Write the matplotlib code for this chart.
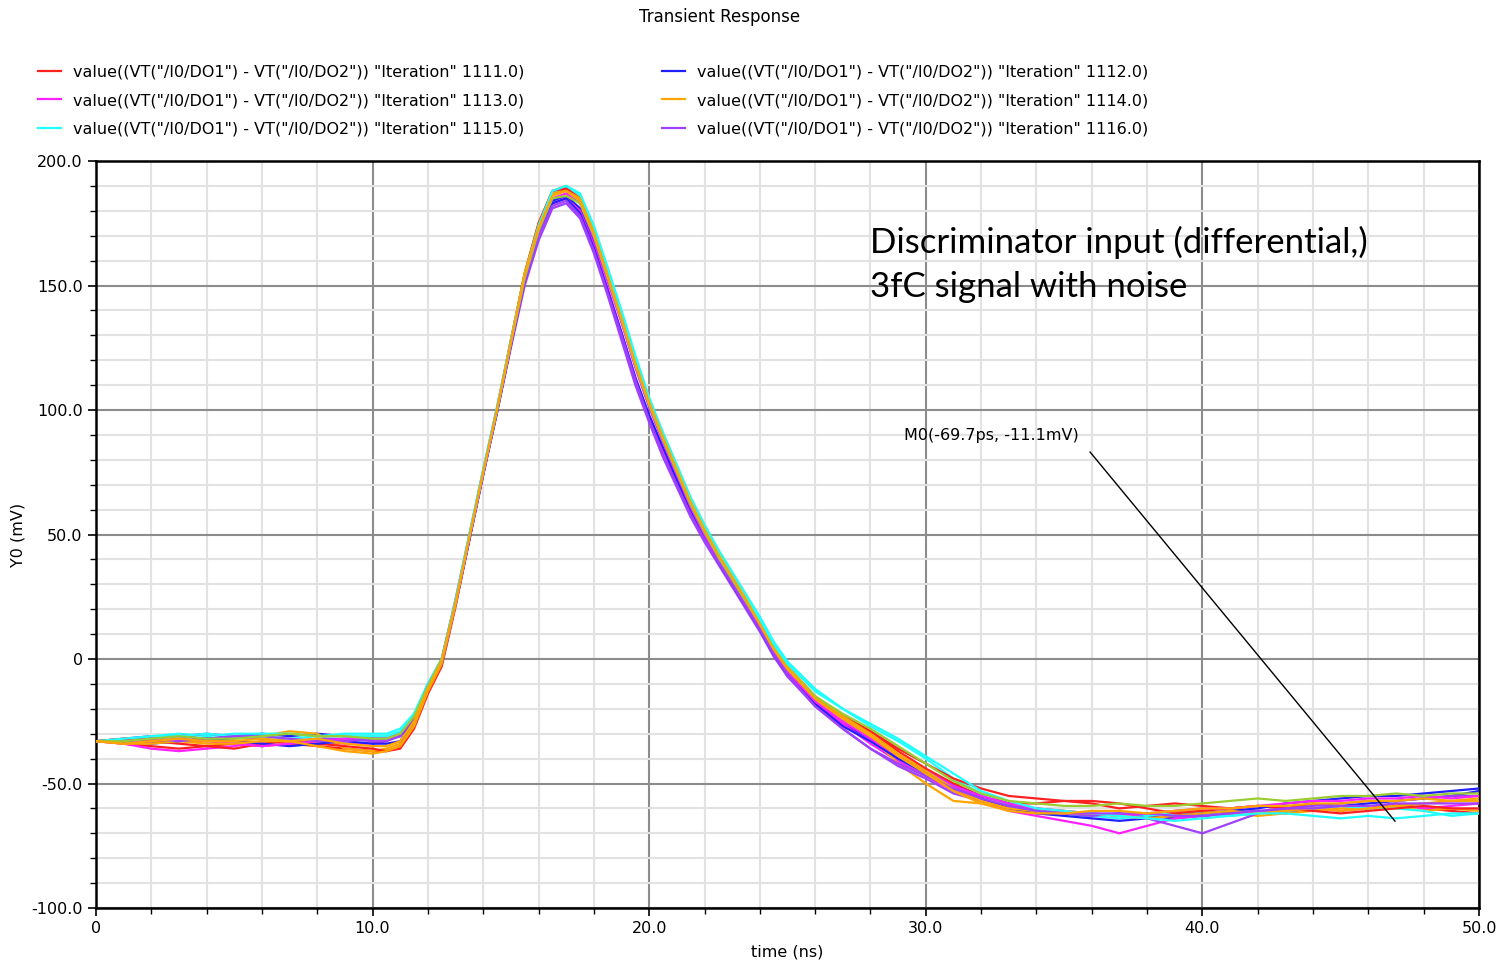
import matplotlib
matplotlib.use("Agg")
import matplotlib.pyplot as plt
from matplotlib.ticker import MultipleLocator, FuncFormatter

# time axis (ns)
t = ([0, 1, 2, 3, 4, 5, 6, 7, 8, 9, 10]
     + [10.5, 11, 11.5, 12, 12.5, 13, 13.5, 14, 14.5, 15, 15.5, 16, 16.5, 17, 17.5,
        18, 18.5, 19, 19.5, 20, 20.5, 21, 21.5, 22, 22.5, 23, 23.5, 24, 24.5, 25]
     + [26, 27, 28, 29, 30, 31, 32, 33, 34, 35, 36, 37, 38, 39, 40, 41, 42, 43,
        44, 45, 46, 47, 48, 49, 50])

# differential output (mV) per Monte Carlo iteration
it_1111 = ([-33, -34, -35, -36, -35, -34, -35, -34, -35, -36, -37]
           + [-37, -35, -27, -13, -2, 22, 49, 75, 100, 127, 154, 174, 187, 189, 185,
              172, 155, 138, 120, 103, 89, 76, 63, 52, 42, 33, 24, 15, 5, -3]
           + [-15, -23, -29, -37, -44, -50, -55, -58, -58, -57, -58, -60, -59, -58,
              -59, -60, -59, -60, -58, -59, -60, -58, -60, -61, -62])
it_1112 = ([-33, -32, -31, -31, -32, -31, -30, -31, -30, -31, -32]
           + [-32, -31, -25, -12, -1, 23, 49, 75, 100, 126, 152, 171, 184, 186, 181,
              168, 152, 136, 119, 103, 88, 74, 60, 49, 39, 30, 21, 12, 2, -6]
           + [-18, -26, -32, -40, -45, -51, -55, -58, -61, -62, -63, -62, -63, -64,
              -63, -62, -61, -62, -60, -59, -58, -57, -56, -55, -53])
it_1113 = ([-33, -34, -36, -37, -36, -35, -33, -32, -33, -34, -34]
           + [-33, -30, -23, -10, 0, 24, 50, 76, 101, 128, 153, 171, 183, 185, 180,
              166, 149, 131, 113, 97, 84, 71, 59, 49, 39, 30, 21, 12, 2, -7]
           + [-18, -26, -34, -41, -47, -53, -57, -61, -63, -65, -67, -70, -67, -64,
              -63, -62, -61, -61, -60, -61, -60, -59, -60, -59, -58])
it_1114 = ([-33, -32, -32, -33, -33, -32, -31, -29, -30, -36, -37]
           + [-36, -34, -26, -12, -1, 22, 48, 75, 100, 128, 155, 175, 188, 190, 186,
              173, 156, 139, 121, 104, 90, 77, 64, 52, 42, 33, 24, 14, 4, -4]
           + [-16, -24, -31, -42, -50, -57, -58, -59, -60, -61, -62, -63, -62, -61,
              -61, -62, -63, -62, -61, -60, -60, -59, -61, -60, -61])
it_1115 = ([-33, -33, -31, -30, -31, -30, -30, -30, -31, -30, -30]
           + [-30, -28, -22, -10, 0, 24, 50, 76, 101, 127, 153, 173, 187, 190, 186,
              173, 157, 140, 122, 105, 91, 78, 65, 54, 44, 35, 26, 17, 7, -1]
           + [-12, -20, -27, -33, -40, -48, -54, -59, -61, -62, -63, -64, -63, -62,
              -62, -63, -62, -61, -60, -59, -60, -60, -61, -63, -62])
it_1116 = ([-33, -33, -32, -31, -30, -31, -32, -33, -32, -32, -33]
           + [-33, -31, -24, -11, -1, 22, 48, 74, 99, 125, 150, 168, 181, 183, 177,
              163, 146, 128, 110, 95, 81, 69, 57, 47, 38, 29, 20, 11, 1, -7]
           + [-19, -28, -36, -43, -48, -54, -57, -59, -60, -62, -63, -62, -64, -67,
              -70, -66, -62, -60, -59, -58, -57, -57, -56, -55, -55])
it_1117 = ([-33, -32, -33, -34, -35, -36, -34, -33, -34, -35, -36]
           + [-37, -36, -28, -14, -3, 21, 48, 75, 100, 128, 155, 175, 188, 189, 185,
              171, 154, 137, 119, 102, 88, 75, 62, 51, 41, 32, 23, 14, 4, -4]
           + [-16, -23, -29, -36, -42, -48, -52, -55, -56, -57, -57, -58, -60, -62,
              -61, -60, -59, -60, -61, -62, -61, -60, -59, -60, -60])
it_1118 = ([-33, -33, -34, -33, -32, -33, -34, -35, -34, -33, -34]
           + [-34, -33, -25, -12, -2, 22, 48, 74, 99, 126, 152, 171, 183, 185, 179,
              165, 148, 131, 113, 98, 85, 72, 60, 49, 39, 30, 21, 12, 2, -6]
           + [-18, -27, -33, -40, -46, -52, -56, -60, -62, -63, -64, -65, -64, -63,
              -62, -61, -60, -58, -57, -56, -55, -55, -54, -53, -52])
it_1119 = ([-33, -33, -33, -32, -33, -34, -35, -34, -33, -32, -32]
           + [-32, -30, -23, -11, 0, 23, 49, 75, 100, 127, 153, 172, 185, 187, 183,
              169, 152, 135, 117, 101, 87, 74, 61, 50, 40, 31, 22, 13, 3, -5]
           + [-17, -25, -32, -39, -45, -51, -55, -58, -60, -61, -62, -63, -62, -61,
              -60, -60, -59, -58, -57, -57, -56, -56, -55, -56, -55])
it_1120 = ([-33, -34, -34, -33, -34, -34, -33, -33, -35, -37, -38]
           + [-37, -35, -27, -13, -2, 22, 49, 75, 101, 128, 155, 174, 187, 188, 185,
              172, 155, 138, 120, 104, 90, 77, 64, 53, 43, 34, 25, 15, 5, -3]
           + [-15, -23, -30, -38, -45, -52, -57, -60, -61, -62, -62, -63, -64, -63,
              -62, -61, -62, -61, -60, -61, -60, -59, -58, -57, -57])
it_1121 = ([-33, -32, -31, -31, -30, -31, -31, -32, -31, -31, -31]
           + [-31, -29, -22, -10, 0, 23, 50, 76, 101, 128, 154, 174, 188, 190, 187,
              174, 157, 139, 121, 104, 90, 77, 64, 53, 43, 34, 25, 16, 6, -2]
           + [-13, -20, -26, -32, -39, -46, -53, -57, -60, -61, -62, -63, -64, -65,
              -64, -63, -62, -62, -63, -64, -63, -64, -63, -62, -62])
it_1122 = ([-33, -33, -32, -33, -32, -31, -31, -32, -33, -33, -32]
           + [-32, -30, -24, -11, -1, 22, 48, 74, 100, 126, 152, 170, 182, 184, 178,
              164, 147, 130, 112, 96, 82, 70, 58, 48, 39, 30, 21, 12, 2, -6]
           + [-19, -28, -36, -42, -47, -52, -56, -59, -61, -62, -62, -62, -62, -63,
              -63, -62, -61, -60, -60, -59, -59, -58, -58, -58, -58])
it_1123 = ([-33, -33, -32, -31, -32, -32, -31, -30, -31, -31, -32]
           + [-32, -30, -23, -11, 0, 23, 49, 75, 100, 127, 153, 172, 185, 186, 183,
              170, 153, 136, 118, 102, 88, 75, 62, 51, 41, 32, 23, 14, 4, -4]
           + [-15, -22, -28, -35, -42, -49, -54, -57, -58, -59, -59, -58, -59, -59,
              -58, -57, -56, -57, -56, -55, -55, -54, -55, -54, -54])
it_1124 = ([-33, -34, -33, -32, -33, -33, -32, -33, -32, -34, -35]
           + [-35, -33, -25, -12, -1, 22, 49, 75, 100, 127, 154, 173, 186, 188, 184,
              171, 154, 137, 119, 103, 89, 76, 63, 52, 42, 33, 24, 14, 4, -4]
           + [-16, -24, -31, -39, -46, -53, -58, -61, -62, -62, -61, -61, -62, -61,
              -60, -60, -59, -59, -58, -58, -57, -57, -56, -57, -56])

runs = [it_1111, it_1112, it_1113, it_1114, it_1115, it_1116, it_1117,
        it_1118, it_1119, it_1120, it_1121, it_1122, it_1123, it_1124]
iterations = [1111, 1112, 1113, 1114, 1115, 1116, 1117, 1118, 1119, 1120,
              1121, 1122, 1123, 1124]
colors = ["#ff2020", "#2020ff", "#ff20ff", "#ffa500", "#20ffff", "#a040ff",
          "#ff2020", "#2020ff", "#ff20ff", "#ffa500", "#20ffff", "#a040ff",
          "#9acd32", "#ffa500"]

fig = plt.figure(figsize=(14.99, 9.63), dpi=100)
ax = fig.add_axes([0.064, 0.0571, 0.9227, 0.7757])

handles = {}
for vals, it, c in zip(runs, iterations, colors):
    ln, = ax.plot(t, vals, color=c, lw=1.6, zorder=3)
    if it <= 1116:
        handles[it] = ln

ax.set_xlim(0, 50)
ax.set_ylim(-100, 200)
ax.xaxis.set_major_locator(MultipleLocator(10))
ax.xaxis.set_minor_locator(MultipleLocator(2))
ax.yaxis.set_major_locator(MultipleLocator(50))
ax.yaxis.set_minor_locator(MultipleLocator(10))


def fmt(v, pos):
    return "0" if v == 0 else "%.1f" % v


ax.xaxis.set_major_formatter(FuncFormatter(fmt))
ax.yaxis.set_major_formatter(FuncFormatter(fmt))
ax.grid(which="minor", color="#e2e2e2", lw=1.5, zorder=0)
ax.grid(which="major", color="#8c8c8c", lw=1.5, zorder=1)
ax.tick_params(which="major", length=6, width=1.2, labelsize=11.5, direction="out")
ax.tick_params(which="minor", length=4, width=1.0, direction="out")
for s in ax.spines.values():
    s.set_linewidth(1.8)
    s.set_color("black")

ax.set_xlabel("time (ns)", fontsize=11.5, labelpad=6)
ax.set_ylabel("Y0 (mV)", fontsize=11.5, labelpad=4)
fig.text(0.48, 0.982, "Transient Response", ha="center", va="center", fontsize=12)

label = 'value((VT("/I0/DO1") - VT("/I0/DO2")) "Iteration" %d.0)'
order = [1111, 1113, 1115, 1112, 1114, 1116]
fig.legend([handles[i] for i in order], [label % i for i in order],
           loc="upper left", bbox_to_anchor=(0.016, 0.948), ncol=2,
           frameon=False, fontsize=11.5, handlelength=1.4, handletextpad=0.8,
           columnspacing=8.6, labelspacing=0.85)

ax.text(28.0, 174, "Discriminator input (differential,)\n3fC signal with noise",
        fontsize=25, family="Lato", va="top", ha="left", linespacing=1.45, zorder=5)

# marker
ax.text(29.2, 89.6, "M0(-69.7ps, -11.1mV)", fontsize=11.5, va="center", ha="left", zorder=5)
ax.plot([35.94, 46.96], [83.1, -65.1], color="black", lw=1.0, zorder=4)

fig.savefig("out.png", dpi=100)
